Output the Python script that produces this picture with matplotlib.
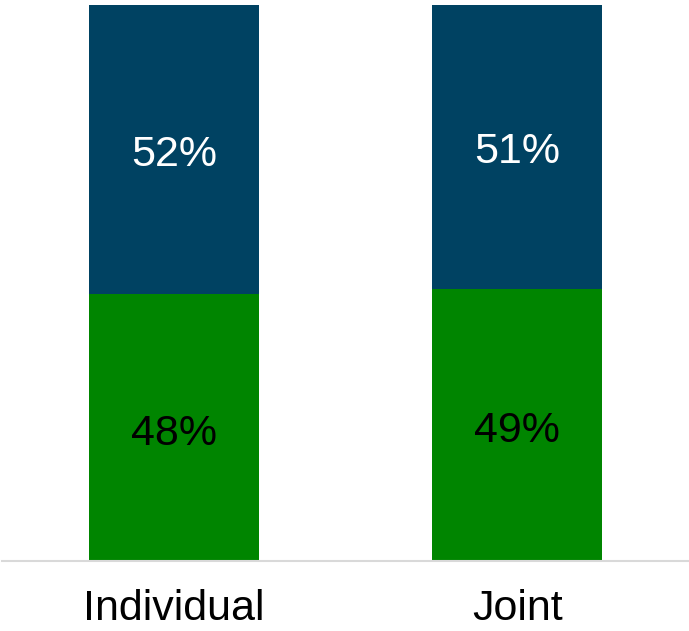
import matplotlib.pyplot as plt

categories = ['Individual', 'Joint']
green_vals = [48, 49]
navy_vals = [52, 51]

plt.rcParams['font.family'] = ['Liberation Sans', 'DejaVu Sans']

fig = plt.figure(figsize=(6.89, 6.31), dpi=100)
ax = fig.add_axes([2 / 689, 1 - 561 / 631, 687 / 689, 556 / 631])

x = range(len(categories))
ax.bar(x, green_vals, width=0.495, color='#008500')
ax.bar(x, navy_vals, width=0.495, bottom=green_vals, color='#004262')

for i in x:
    ax.text(i, green_vals[i] / 2 - 1.1, f'{green_vals[i]}%', ha='center', va='center',
            fontsize=31, color='black')
    ax.text(i, green_vals[i] + navy_vals[i] / 2 - 1.0, f'{navy_vals[i]}%', ha='center',
            va='center', fontsize=31, color='white')

ax.set_xlim(-0.5, 1.5)
ax.set_ylim(0, 100)
ax.set_xticks(list(x))
ax.set_xticklabels(categories, fontsize=31)
ax.tick_params(axis='x', length=0, pad=20)
ax.set_yticks([])
for s in ['top', 'right', 'left']:
    ax.spines[s].set_visible(False)
ax.spines['bottom'].set_color('#d9d9d9')
ax.spines['bottom'].set_linewidth(1.5)

fig.savefig('out.png', dpi=100)
